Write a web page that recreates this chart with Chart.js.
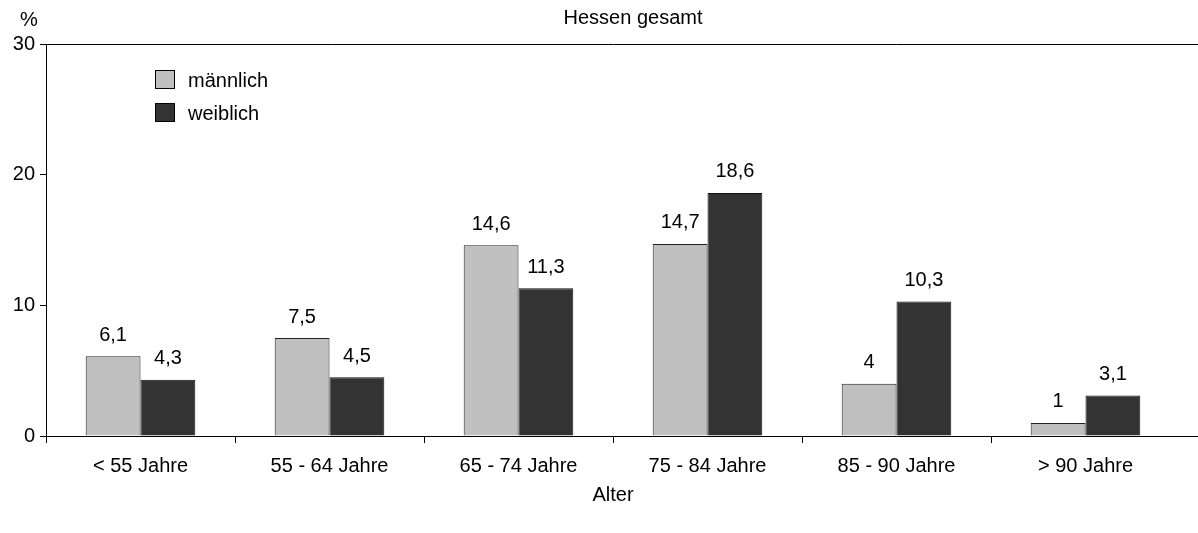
<!DOCTYPE html>
<html>
<head>
<meta charset="utf-8">
<script src="https://cdn.jsdelivr.net/npm/chart.js@4"></script>
<style>
  html, body { margin: 0; padding: 0; background: #fff; }
  #wrap { width: 1198px; height: 533px; }
</style>
</head>
<body>
<div id="wrap"><canvas id="myChart" width="1198" height="533"></canvas></div>
<script>
// Altersgruppen und Anteile in %
const categories = ['< 55 Jahre', '55 - 64 Jahre', '65 - 74 Jahre', '75 - 84 Jahre', '85 - 90 Jahre', '> 90 Jahre'];
const maennlich = [6.1, 7.5, 14.6, 14.7, 4, 1];
const weiblich = [4.3, 4.5, 11.3, 18.6, 10.3, 3.1];
const yTicks = [0, 10, 20, 30];

const FONT = '"Liberation Sans", Arial, sans-serif';
const FS = 20;
Chart.defaults.font.family = FONT;
Chart.defaults.font.size = FS;
Chart.defaults.color = '#000';

// Werte über den Balken, Titel, "%" und Legende im Diagramm
const extras = {
  id: 'extras',
  afterDatasetsDraw(chart) {
    const c = chart.ctx;
    const a = chart.chartArea;
    c.save();
    // Achsenlinien bis zum rechten Rand verlängern
    c.strokeStyle = '#000';
    c.lineWidth = 1;
    c.beginPath();
    c.moveTo(a.right, a.top + 0.5); c.lineTo(chart.width, a.top + 0.5);
    c.moveTo(a.right, a.bottom + 0.5); c.lineTo(chart.width, a.bottom + 0.5);
    c.stroke();

    c.fillStyle = '#000';
    c.font = FS + 'px ' + FONT;
    c.textAlign = 'center';
    c.textBaseline = 'middle';
    chart.data.datasets.forEach((ds, i) => {
      chart.getDatasetMeta(i).data.forEach((bar, j) => {
        c.fillText(String(ds.data[j]).replace('.', ','), bar.x, bar.y - 21);
      });
    });
    c.fillText('Hessen gesamt', 633, 18);
    c.fillText('%', 29, 20);
    // Legende
    c.textAlign = 'left';
    chart.data.datasets.forEach((ds, i) => {
      const y = 70 + i * 33;
      c.fillStyle = ds.backgroundColor;
      c.fillRect(155, y, 20, 19);
      c.strokeStyle = '#000';
      c.lineWidth = 1;
      c.strokeRect(155.5, y + 0.5, 19, 18);
      c.fillStyle = '#000';
      c.fillText(ds.label, 188, y + 11);
    });
    c.restore();
  }
};

new Chart(document.getElementById('myChart'), {
  type: 'bar',
  data: {
    labels: categories,
    datasets: [{
      label: 'männlich',
      data: maennlich,
      backgroundColor: '#c0c0c0',
      borderColor: '#222',
      borderWidth: 1,
      borderSkipped: 'bottom'
    }, {
      label: 'weiblich',
      data: weiblich,
      backgroundColor: '#333333',
      borderColor: '#111',
      borderWidth: 1,
      borderSkipped: 'bottom'
    }]
  },
  options: {
    responsive: false,
    animation: false,
    events: [],
    layout: { padding: { top: 44, right: 18, left: 0, bottom: 0 } },
    categoryPercentage: 0.58,
    barPercentage: 1,
    plugins: {
      legend: { display: false },
      tooltip: { enabled: false }
    },
    scales: {
      x: {
        grid: {
          offset: true, drawOnChartArea: false, drawTicks: true, tickLength: 7,
          color: '#000',
          // kein Strich am rechten Ende
          tickColor: ctx => (ctx.tick ? '#000' : 'rgba(0,0,0,0)')
        },
        border: { display: true, color: '#000', width: 1 },
        ticks: { padding: 11, color: '#000', font: { size: FS } },
        title: { display: true, text: 'Alter', color: '#000', font: { size: FS }, padding: { top: 4, bottom: 26 } },
        afterFit(scale) { scale.height = 97; }
      },
      y: {
        min: 0,
        max: 30,
        afterBuildTicks(scale) { scale.ticks = yTicks.map(v => ({ value: v })); },
        grid: {
          drawTicks: true,
          tickLength: 6,
          color: ctx => (ctx.tick && ctx.tick.value === 30 ? '#000' : 'rgba(0,0,0,0)'),
          tickColor: '#000'
        },
        border: { display: true, color: '#000', width: 1 },
        ticks: { padding: 5, color: '#000', font: { size: FS } },
        afterFit(scale) { scale.width = 46; }
      }
    }
  },
  plugins: [extras]
});
</script>
</body>
</html>
